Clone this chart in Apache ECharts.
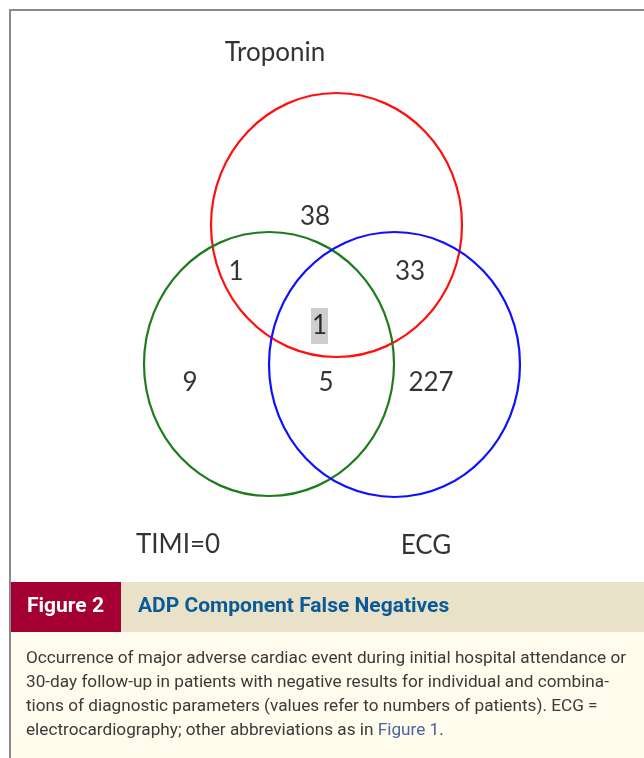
<!DOCTYPE html>
<html><head><meta charset="utf-8">
<script src="https://cdn.jsdelivr.net/npm/echarts@6/dist/echarts.min.js"></script>
<style>html,body{margin:0;padding:0;background:#fff}#c{width:644px;height:758px}</style>
</head><body><div id="c"></div>
<script>
// ---- data ----
const setNames = ['Troponin', 'TIMI=0', 'ECG'];
const regionNames = ['Troponin only', 'Troponin & TIMI=0', 'Troponin & ECG', 'All three', 'TIMI=0 only', 'TIMI=0 & ECG', 'ECG only'];
const regionCounts = [38, 1, 33, 1, 9, 5, 227];
const figureLabel = 'Figure 2';
const figureTitle = 'ADP Component False Negatives';
const captionLines = [
  'Occurrence of major adverse cardiac event during initial hospital attendance or',
  '30-day follow-up in patients with negative results for individual and combina-',
  'tions of diagnostic parameters (values refer to numbers of patients). ECG =',
  'electrocardiography; other abbreviations as in '
];
const captionLink = 'Figure 1';

// ---- layout (chart space = pixels) ----
const circleCenters = [[336.5, 225], [269, 364], [394.5, 364.5]];
const circleRadii = [[125.5, 132], [125, 132], [125.5, 132.5]];
const circleColors = ['#ff1010', '#1e7b1e', '#1010ff'];
const setLabelPos = [[275, 53], [178, 545], [426, 546]];
const regionPos = [[315, 217], [236, 272], [410, 272], [319.5, 326], [190, 383], [326, 383], [431, 383]];

const vennFont = 'Lato, "Liberation Sans", sans-serif';
const capFont = 'Roboto, "Liberation Sans", sans-serif';

const chart = echarts.init(document.getElementById('c'), null, {renderer: 'canvas'});
chart.setOption({
  animation: false,
  backgroundColor: '#ffffff',
  grid: {left: 0, right: 0, top: 0, bottom: 0},
  xAxis: {type: 'value', min: 0, max: 644, show: false},
  yAxis: {type: 'value', min: 0, max: 758, inverse: true, show: false},
  series: [
    {
      type: 'custom',
      coordinateSystem: 'cartesian2d',
      data: circleCenters.map((c, i) => [c[0], c[1], circleRadii[i][0], circleRadii[i][1], i]),
      renderItem: function (params, api) {
        const c = api.coord([api.value(0), api.value(1)]);
        const s = api.size([api.value(2), api.value(3)]);
        return {
          type: 'ellipse',
          shape: {cx: c[0], cy: c[1], rx: s[0], ry: s[1]},
          style: {fill: 'none', stroke: circleColors[api.value(4)], lineWidth: 2.2}
        };
      },
      silent: true
    },
    {
      type: 'scatter',
      symbolSize: 0,
      silent: true,
      data: setLabelPos.map((p, i) => ({value: p, name: setNames[i]})),
      label: {
        show: true, position: 'inside', formatter: '{b}',
        fontFamily: vennFont, fontSize: 26, color: '#000'
      }
    },
    {
      type: 'scatter',
      symbolSize: 0,
      silent: true,
      data: regionPos.map((p, i) => ({
        value: p, name: regionNames[i],
        label: i === 3 ? {backgroundColor: '#c2c2c2', padding: [6, 1, 4, 1]} : {}
      })),
      label: {
        show: true, position: 'inside',
        formatter: (p) => String(regionCounts[p.dataIndex]),
        fontFamily: vennFont, fontSize: 26, color: '#000', lineHeight: 26
      }
    }
  ],
  graphic: [
    {type: 'rect', shape: {x: 10, y: 632, width: 640, height: 130}, style: {fill: '#fffcee'}, z: 1},
    {type: 'rect', shape: {x: 10, y: 582, width: 640, height: 50}, style: {fill: '#e9e1c8'}, z: 2},
    {type: 'rect', shape: {x: 10, y: 582, width: 111, height: 50}, style: {fill: '#a50034'}, z: 3},
    {type: 'text', x: 27, y: 607, z: 4, style: {text: figureLabel, fill: '#ffffff', font: 'bold 21px ' + capFont, textVerticalAlign: 'middle'}},
    {type: 'text', x: 138, y: 607, z: 4, style: {text: figureTitle, fill: '#0b5a98', font: 'bold 21px ' + capFont, textVerticalAlign: 'middle'}},
    ...captionLines.slice(0, 3).map((t, i) => ({
      type: 'text', x: 26, y: 659 + i * 24, z: 4,
      style: {text: t, fill: '#3a3a3a', font: '17.2px ' + capFont, textVerticalAlign: 'middle'}
    })),
    {type: 'text', x: 26, y: 659 + 3 * 24, z: 4,
      style: {
        text: '{a|' + captionLines[3] + '}{b|' + captionLink + '}{a|.}',
        rich: {
          a: {fill: '#3a3a3a', font: '17.2px ' + capFont},
          b: {fill: '#4a64a0', font: '17.2px ' + capFont}
        },
        font: '17.2px ' + capFont, textVerticalAlign: 'middle'
      }
    },
    {type: 'polyline', shape: {points: [[10, 770], [10, 10], [660, 10]]}, style: {stroke: '#8a8a8a', lineWidth: 2, fill: 'none'}, z: 6}
  ]
});
</script></body></html>
